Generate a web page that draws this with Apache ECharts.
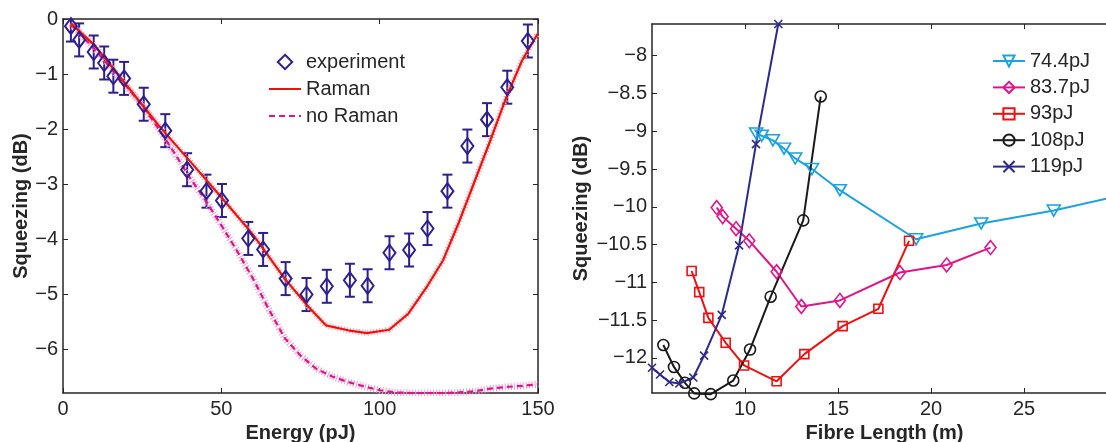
<!DOCTYPE html>
<html>
<head>
<meta charset="utf-8">
<script src="https://cdn.jsdelivr.net/npm/echarts@6/dist/echarts.min.js"></script>
<style>
  html, body { margin: 0; padding: 0; background: #fff; }
  #chart { width: 1106px; height: 442px; }
</style>
</head>
<body>
<div id="chart"></div>
<script>
// ---- left panel: squeezing vs pulse energy ----
var expEnergy = [2.5, 5.1, 9.7, 13.0, 15.9, 19.3, 25.5, 32.3, 39.2, 45.3, 50.2, 58.5, 63.2, 70.3, 76.9, 83.3, 90.6, 96.2, 103.1, 109.3, 115.1, 121.4, 127.7, 133.9, 140.3, 146.8];
var expSqueeze = [-0.13, -0.38, -0.60, -0.80, -1.04, -1.08, -1.55, -2.03, -2.74, -3.13, -3.30, -3.99, -4.19, -4.72, -5.01, -4.86, -4.75, -4.85, -4.25, -4.20, -3.81, -3.13, -2.31, -1.83, -1.24, -0.40];
var expError = [0.28, 0.3, 0.3, 0.3, 0.3, 0.3, 0.3, 0.3, 0.3, 0.3, 0.3, 0.3, 0.3, 0.3, 0.3, 0.3, 0.3, 0.3, 0.3, 0.3, 0.3, 0.3, 0.3, 0.3, 0.3, 0.3];

var ramanEnergy = [2.5, 10, 20, 30, 40, 50, 60, 70, 77, 83, 90, 96, 103, 109, 115, 120, 125, 130, 135, 140, 145, 150];
var ramanSqueeze = [-0.08, -0.48, -1.2, -1.92, -2.58, -3.24, -3.92, -4.72, -5.2, -5.57, -5.66, -5.71, -5.65, -5.36, -4.86, -4.39, -3.7, -2.95, -2.2, -1.42, -0.75, -0.26];

var noRamanEnergy = [2.5, 10, 20, 25, 30, 35, 40, 45, 50, 55, 60, 65, 70, 75, 80, 85, 90, 95, 100, 105, 110, 115, 120, 125, 130, 135, 140, 145, 150];
var noRamanSqueeze = [-0.1, -0.55, -1.22, -1.57, -1.98, -2.42, -2.88, -3.3, -3.75, -4.22, -4.72, -5.28, -5.8, -6.12, -6.36, -6.5, -6.6, -6.68, -6.75, -6.79, -6.8, -6.8, -6.8, -6.79, -6.77, -6.72, -6.69, -6.67, -6.64];

var leftXTicks = [0, 50, 100, 150];
var leftYTicks = [0, -1, -2, -3, -4, -5, -6];

// ---- right panel: squeezing vs fibre length ----
var len744 = [10.6, 10.9, 11.5, 12.1, 12.7, 13.6, 15.1, 19.2, 22.7, 26.6, 30.0];
var sq744 = [-9.03, -9.06, -9.12, -9.23, -9.36, -9.50, -9.78, -10.43, -10.22, -10.05, -9.86];
var len837 = [8.48, 8.8, 9.52, 10.23, 11.7, 13.03, 15.1, 18.33, 20.84, 23.2];
var sq837 = [-10.01, -10.13, -10.29, -10.45, -10.86, -11.32, -11.24, -10.87, -10.77, -10.54];
var len93 = [7.13, 7.54, 8.03, 8.96, 9.95, 11.7, 13.19, 15.25, 17.17, 18.82];
var sq93 = [-10.85, -11.13, -11.47, -11.80, -12.10, -12.31, -11.95, -11.58, -11.35, -10.45];
var len108 = [5.61, 6.18, 6.77, 7.27, 8.16, 9.37, 10.27, 11.38, 13.13, 14.07];
var sq108 = [-11.83, -12.12, -12.33, -12.47, -12.48, -12.30, -11.89, -11.19, -10.18, -8.54];
var len119 = [5.0, 5.43, 5.93, 6.47, 7.22, 7.80, 8.75, 9.68, 10.59, 11.79];
var sq119 = [-12.13, -12.22, -12.32, -12.34, -12.26, -11.97, -11.43, -10.51, -9.17, -7.58];

var rightXTicks = [10, 15, 20, 25];
var rightYTicks = [-8, -8.5, -9, -9.5, -10, -10.5, -11, -11.5, -12];

var FONT = '"Liberation Sans", Arial, sans-serif';
var AXIS = '#262626';
var BLUE = '#2e1f8f';

function pairs(xs, ys) {
    return xs.map(function (x, i) { return [x, ys[i]]; });
}
function minus(v) {
    return String(v).replace('-', '\u2212');
}

function mkX(grid, pos, min, max, ticks, name, show) {
    return {
        type: 'value', gridIndex: grid, position: pos, min: min, max: max,
        name: show ? name : '', nameLocation: 'middle', nameGap: 27,
        nameTextStyle: { fontFamily: FONT, fontSize: 20, fontWeight: 'bold', color: AXIS },
        axisLine: { show: true, onZero: false, lineStyle: { color: AXIS, width: 1.5 } },
        axisTick: { show: true, inside: true, length: 5, customValues: ticks, lineStyle: { color: AXIS } },
        axisLabel: { show: show, customValues: ticks, margin: 6, fontFamily: FONT, fontSize: 20, color: AXIS, formatter: minus },
        splitLine: { show: false }
    };
}
function mkY(grid, pos, min, max, ticks, gap, show) {
    return {
        type: 'value', gridIndex: grid, position: pos, min: min, max: max,
        name: show ? 'Squeezing (dB)' : '', nameLocation: 'middle', nameGap: gap, nameRotate: 90,
        nameTextStyle: { fontFamily: FONT, fontSize: 20, fontWeight: 'bold', color: AXIS },
        axisLine: { show: true, onZero: false, lineStyle: { color: AXIS, width: 1.5 } },
        axisTick: { show: true, inside: true, length: 5, customValues: ticks, lineStyle: { color: AXIS } },
        axisLabel: { show: show, customValues: ticks, margin: 5, fontFamily: FONT, fontSize: 20, color: AXIS, formatter: minus },
        splitLine: { show: false }
    };
}

function fibreLine(name, xs, ys, color, symbol, size, rotate) {
    return {
        name: name, type: 'line', xAxisIndex: 2, yAxisIndex: 2,
        data: pairs(xs, ys), symbol: symbol, symbolSize: size, symbolRotate: rotate || 0,
        showAllSymbol: true, clip: false,
        lineStyle: { color: color, width: 2 },
        itemStyle: { color: 'transparent', borderColor: color, borderWidth: 1.6 },
        emphasis: { disabled: true }
    };
}

var hideSymbol = { color: 'transparent', borderColor: 'transparent', borderWidth: 0 };

var myChart = echarts.init(document.getElementById('chart'), null, { renderer: 'canvas' });
var option = {
    backgroundColor: '#fff',
    animation: false,
    textStyle: { fontFamily: FONT },
    grid: [
        { left: 63, right: 568, top: 19, bottom: 49, containLabel: false, outerBoundsMode: 'none' },
        { left: 652, right: -11, top: 24, bottom: 49, containLabel: false, outerBoundsMode: 'none' }
    ],
    xAxis: [
        mkX(0, 'bottom', 0, 150, leftXTicks, 'Energy (pJ)', true),
        mkX(0, 'top', 0, 150, leftXTicks, '', false),
        mkX(1, 'bottom', 5, 30, rightXTicks, 'Fibre Length (m)', true),
        mkX(1, 'top', 5, 30, rightXTicks, '', false)
    ],
    yAxis: [
        mkY(0, 'left', -6.8, 0, leftYTicks, 32, true),
        mkY(0, 'right', -6.8, 0, leftYTicks, 0, false),
        mkY(1, 'left', -12.465, -7.58, rightYTicks, 61, true),
        mkY(1, 'right', -12.465, -7.58, rightYTicks, 0, false)
    ],
    legend: [
        {
            data: [
                { name: 'experiment' },
                { name: 'Raman', itemStyle: hideSymbol },
                { name: 'no Raman', itemStyle: hideSymbol }
            ],
            orient: 'vertical', left: 268, top: 52, padding: 0,
            itemWidth: 32, itemHeight: 18, itemGap: 7,
            textStyle: { fontFamily: FONT, fontSize: 20, color: AXIS, lineHeight: 20 },
            selectedMode: false
        },
        {
            data: ['74.4pJ', '83.7pJ', '93pJ', '108pJ', '119pJ'],
            orient: 'vertical', left: 992, top: 51, padding: 0,
            itemWidth: 32, itemHeight: 14, itemGap: 6.4,
            textStyle: { fontFamily: FONT, fontSize: 20, color: AXIS, lineHeight: 20 },
            selectedMode: false
        }
    ],
    series: [
        // dotted halo around the simulated curves
        {
            name: 'noRamanHalo', type: 'line', xAxisIndex: 0, yAxisIndex: 0,
            data: pairs(noRamanEnergy, noRamanSqueeze), symbol: 'none', silent: true,
            lineStyle: { color: '#f59acb', width: 7, type: [1, 2] }
        },
        {
            name: 'ramanHalo', type: 'line', xAxisIndex: 0, yAxisIndex: 0,
            data: pairs(ramanEnergy, ramanSqueeze), symbol: 'none', silent: true,
            lineStyle: { color: '#f7a3a3', width: 6, type: [1, 2] }
        },
        {
            name: 'no Raman', type: 'line', xAxisIndex: 0, yAxisIndex: 0,
            data: pairs(noRamanEnergy, noRamanSqueeze), symbol: 'none',
            itemStyle: { color: '#e0138c' },
            lineStyle: { color: '#e0138c', width: 2.2, type: [6, 4] }
        },
        {
            name: 'Raman', type: 'line', xAxisIndex: 0, yAxisIndex: 0,
            data: pairs(ramanEnergy, ramanSqueeze), symbol: 'none',
            itemStyle: { color: '#ee1111' },
            lineStyle: { color: '#ee1111', width: 2.2 }
        },
        {
            name: 'errorbars', type: 'custom', xAxisIndex: 0, yAxisIndex: 0,
            clip: true, silent: true,
            encode: { x: 0, y: [1, 2] },
            data: expEnergy.map(function (e, i) {
                return [e, expSqueeze[i] - expError[i], expSqueeze[i] + expError[i]];
            }),
            renderItem: function (params, api) {
                var lo = api.coord([api.value(0), api.value(1)]);
                var hi = api.coord([api.value(0), api.value(2)]);
                var w = 5;
                var st = { stroke: BLUE, lineWidth: 2 };
                return {
                    type: 'group',
                    children: [
                        { type: 'line', shape: { x1: lo[0], y1: lo[1], x2: hi[0], y2: hi[1] }, style: st },
                        { type: 'line', shape: { x1: lo[0] - w, y1: lo[1], x2: lo[0] + w, y2: lo[1] }, style: st },
                        { type: 'line', shape: { x1: hi[0] - w, y1: hi[1], x2: hi[0] + w, y2: hi[1] }, style: st }
                    ]
                };
            }
        },
        {
            // markers only: drawn as a line series with an invisible line so the legend shows a small diamond
            name: 'experiment', type: 'line', xAxisIndex: 0, yAxisIndex: 0,
            data: pairs(expEnergy, expSqueeze),
            symbol: 'diamond', symbolSize: [12, 16], showAllSymbol: true,
            lineStyle: { width: 0, opacity: 0 },
            itemStyle: { color: 'transparent', borderColor: BLUE, borderWidth: 2 },
            emphasis: { disabled: true }
        },
        fibreLine('74.4pJ', len744, sq744, '#1aa3e0', 'triangle', [13, 11], 180),
        fibreLine('83.7pJ', len837, sq837, '#e0158c', 'diamond', [11, 14]),
        fibreLine('93pJ', len93, sq93, '#ee1111', 'rect', 9),
        fibreLine('108pJ', len108, sq108, '#1a1a1a', 'circle', 11),
        fibreLine('119pJ', len119, sq119, '#2e2a8c', 'path://M0,0L10,10M10,0L0,10', 8)
    ]
};
myChart.setOption(option);
</script>
</body>
</html>
